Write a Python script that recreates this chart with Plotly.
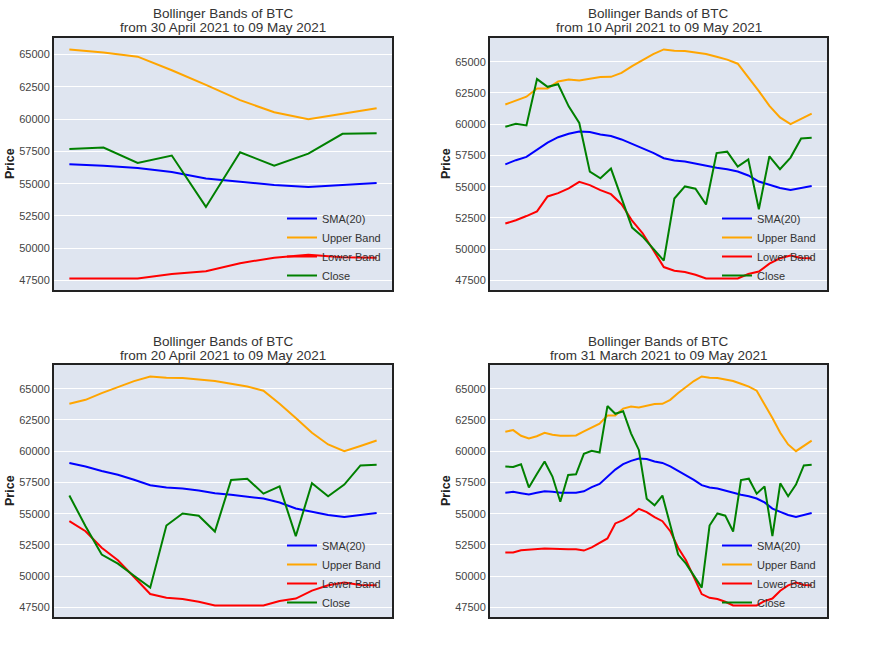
import plotly.graph_objects as go

# Full 40-day series (31 March 2021 .. 09 May 2021)
close = [58770, 58740, 58960, 57100, 58150, 59170, 57970, 55960, 58100, 58150,
         59790, 60030, 59900, 63610, 62990, 63200, 61430, 60100, 56200, 55670,
         56450, 54000, 51730, 51000, 50030, 49080, 54050, 55020, 54840, 53570,
         57690, 57800, 56600, 57180, 53200, 57430, 56400, 57330, 58860, 58910]
sma20 = [56670, 56750, 56640, 56540, 56670, 56800, 56750, 56670, 56670, 56670,
         56790, 57120, 57380, 57940, 58530, 58960, 59230, 59420, 59370, 59180,
         59060, 58780, 58420, 58120, 57710, 57280, 57090, 57020, 56850, 56640,
         56510, 56390, 56210, 55900, 55410, 55150, 54900, 54740, 54900, 55050]
upper = [61560, 61690, 61230, 61020, 61200, 61470, 61310, 61230, 61230, 61260,
         61580, 61920, 62200, 62860, 62860, 63410, 63570, 63500, 63610, 63770,
         63790, 64110, 64650, 65160, 65610, 65980, 65880, 65850, 65750, 65620,
         65400, 65170, 64840, 63790, 62650, 61470, 60540, 60000, 60410, 60850]
lower = [51890, 51890, 52070, 52130, 52210, 52210, 52190, 52150, 52150, 52150,
         52050, 52310, 52650, 53020, 54220, 54480, 54870, 55390, 55130, 54720,
         54400, 53600, 52280, 51270, 49930, 48570, 48270, 48170, 47950, 47660,
         47650, 47650, 47660, 48010, 48210, 48840, 49270, 49490, 49300, 49270]

# panels: (number of last days, start label)
windows = [10, 30, 20, 40]
start_labels = ["30 April 2021", "10 April 2021", "20 April 2021", "31 March 2021"]
end_label = "09 May 2021"

W, H = 871, 653
# plot-area pixel boxes (left, right, top, bottom)
boxes = [(54, 392, 38, 290), (490, 827, 38, 290), (54, 392, 365, 617), (490, 827, 365, 617)]

series = [("SMA(20)", sma20, "#0000ff"), ("Upper Band", upper, "#ffa500"),
          ("Lower Band", lower, "#ff0000"), ("Close", close, "#008000")]

fig = go.Figure()
layout = dict(width=W, height=H, margin=dict(l=0, r=0, t=0, b=0),
              paper_bgcolor="white", plot_bgcolor="#dfe5f0",
              font=dict(family="Liberation Sans, Arial, sans-serif", color="#333333"),
              showlegend=True)
annotations = []

for k, (n, lab, box) in enumerate(zip(windows, start_labels, boxes)):
    idx = k + 1
    xs = list(range(n))
    xa = "x" if idx == 1 else f"x{idx}"
    ya = "y" if idx == 1 else f"y{idx}"
    lg = "legend" if idx == 1 else f"legend{idx}"
    allv = []
    for name, vals, col in series:
        v = vals[-n:]
        allv += v
        fig.add_trace(go.Scatter(x=xs, y=v, mode="lines", name=name,
                                 line=dict(color=col, width=2),
                                 xaxis=xa, yaxis=ya, legend=lg))
    lo, hi = min(allv), max(allv)
    span = hi - lo
    l, r, t, b = box
    xd = [l / W, r / W]
    yd = [1 - b / H, 1 - t / H]
    layout["xaxis" if idx == 1 else f"xaxis{idx}"] = dict(
        domain=xd, range=[-0.05 * (n - 1), (n - 1) * 1.05],
        showticklabels=False, showgrid=False, zeroline=False, ticks="",
        showline=True, mirror=True, linecolor="#222222", linewidth=2,
        anchor=ya)
    layout["yaxis" if idx == 1 else f"yaxis{idx}"] = dict(
        domain=yd, range=[lo - 0.05 * span, hi + 0.05 * span],
        dtick=2500, tick0=0, tickformat="d", showgrid=True, gridcolor="white",
        gridwidth=1, zeroline=False, ticks="",
        tickfont=dict(size=11, color="#444444"),
        showline=True, mirror=True, linecolor="#222222", linewidth=2,
        anchor=xa)
    layout[lg] = dict(x=(r - 110) / W, xanchor="left", y=yd[0], yanchor="bottom",
                      bgcolor="rgba(0,0,0,0)", borderwidth=0,
                      font=dict(size=11, color="#333333"), itemwidth=30)
    cx = (l + r) / 2 / W
    for text, dy in (("Bollinger Bands of BTC", 24), (f"from {lab} to {end_label}", 10)):
        annotations.append(dict(x=cx, y=1 - (t - dy) / H, xref="paper", yref="paper",
                                xanchor="center", yanchor="middle", showarrow=False,
                                text=text, font=dict(size=13.5, color="#333333")))
    px = 10 if l < 100 else l - 44
    annotations.append(dict(x=px / W, y=1 - (t + b) / 2 / H, xref="paper", yref="paper",
                            xanchor="center", yanchor="middle", showarrow=False,
                            textangle=-90, text="<b>Price</b>",
                            font=dict(size=12.5, color="#222222")))

layout["annotations"] = annotations
fig.update_layout(**layout)
fig.write_html("out.html")
